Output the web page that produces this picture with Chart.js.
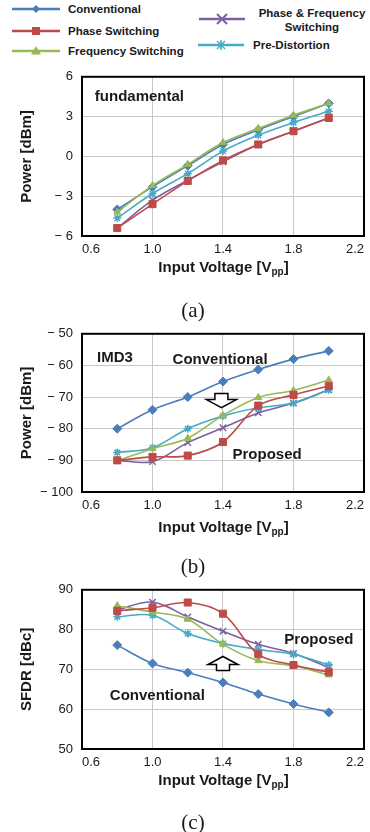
<!DOCTYPE html>
<html>
<head>
<meta charset="utf-8">
<script src="https://cdn.jsdelivr.net/npm/chart.js@4.4.1/dist/chart.umd.min.js"></script>
<style>
  body { margin: 0; width: 370px; height: 832px; position: relative; background: #fff; overflow: hidden;
         font-family: "Liberation Sans", Arial, sans-serif; color: #1a1a1a; }
  .box { position: absolute; left: 0; width: 370px; height: 200px; }
  .xt { position: absolute; left: 82px; width: 283px; text-align: center; font-weight: bold;
        font-size: 15px; line-height: 18px; }
  .xt sub { font-size: 10px; vertical-align: -3px; line-height: 0; }
  .cap { position: absolute; left: 0; width: 386px; text-align: center; line-height: 24px;
         font-family: "Liberation Serif", serif; font-size: 21px; }
  .lg { position: absolute; font-weight: bold; font-size: 11.5px; line-height: 14px; }
  #legend { position: absolute; left: 0; top: 0; }
</style>
</head>
<body>
<svg id="legend" width="370" height="60"></svg>
<div class="lg" style="left:68px;top:2px">Conventional</div>
<div class="lg" style="left:68px;top:24px">Phase Switching</div>
<div class="lg" style="left:68px;top:44px">Frequency Switching</div>
<div class="lg" style="left:256px;top:6px;width:112px;text-align:center">Phase &amp; Frequency<br>Switching</div>
<div class="lg" style="left:253px;top:38px">Pre-Distortion</div>

<div class="box" style="top:60px"><canvas id="chartA"></canvas></div>
<div class="xt" style="top:258px">Input Voltage [V<sub>pp</sub>]</div>
<div class="cap" style="top:298px">(a)</div>

<div class="box" style="top:317px;height:199px"><canvas id="chartB"></canvas></div>
<div class="xt" style="top:518px">Input Voltage [V<sub>pp</sub>]</div>
<div class="cap" style="top:554px">(b)</div>

<div class="box" style="top:573px"><canvas id="chartC"></canvas></div>
<div class="xt" style="top:771px">Input Voltage [V<sub>pp</sub>]</div>
<div class="cap" style="top:810px">(c)</div>

<script>
const xValues = [0.8, 1.0, 1.2, 1.4, 1.6, 1.8, 2.0];
const xTicks = [0.6, 1.0, 1.4, 1.8, 2.2];
const seriesNames = ["Conventional", "Phase Switching", "Frequency Switching",
  "Phase & Frequency Switching", "Pre-Distortion"];
const colors = ["#4a7ebb", "#be4b48", "#98b954", "#7d60a0", "#46aac5"];
const markers = ["rectRot", "rect", "triangle", "crossRot", "star"];

// (a) fundamental power [dBm]
const fundTicks = [-6, -3, 0, 3, 6];
const fundConv = [-4.0, -2.3, -0.7, 0.9, 2.0, 3.0, 4.0];
const fundPhase = [-5.4, -3.6, -1.85, -0.3, 0.9, 1.9, 2.9];
const fundFreq = [-4.2, -2.2, -0.6, 1.05, 2.1, 3.1, 4.0];
const fundBoth = [-5.4, -3.3, -1.8, -0.4, 0.9, 1.9, 2.9];
const fundPre = [-4.65, -2.8, -1.3, 0.4, 1.6, 2.55, 3.4];

// (b) IMD3 power [dBm]
const imdTicks = [-100, -90, -80, -70, -60, -50];
const imdConv = [-80, -74, -70, -65.1, -61.3, -58, -55.4];
const imdPhase = [-90, -88.9, -88.5, -84.2, -72.7, -69.3, -66.5];
const imdFreq = [-90.1, -86.3, -83, -75.8, -70.1, -67.9, -64.6];
const imdBoth = [-90, -90.4, -84.4, -79.7, -75, -71.9, -67.7];
const imdPre = [-87.5, -86, -80, -76, -73.4, -71.9, -67.7];

// (c) SFDR [dBc]
const sfdrTicks = [50, 60, 70, 80, 90];
const sfdrConv = [76.1, 71.5, 69.2, 66.7, 63.8, 61.3, 59.2];
const sfdrPhase = [84.7, 85.5, 86.8, 84, 73.8, 71.1, 69.3];
const sfdrFreq = [86, 84.4, 82.6, 76.3, 72.2, 70.9, 68.6];
const sfdrBoth = [85, 86.9, 83.2, 79.6, 76.3, 74, 70.5];
const sfdrPre = [83.2, 83.6, 79, 76.5, 75, 73.8, 71.1];

// legend swatches
const svgNS = "http://www.w3.org/2000/svg";
const legendSvg = document.getElementById("legend");
function svgEl(tag, attrs) {
  const el = document.createElementNS(svgNS, tag);
  for (const k in attrs) el.setAttribute(k, attrs[k]);
  legendSvg.appendChild(el);
}
function swatch(i, x1, x2, y) {
  const c = colors[i], m = (x1 + x2) / 2;
  svgEl("line", { x1: x1, y1: y, x2: x2, y2: y, stroke: c, "stroke-width": 2.5 });
  if (markers[i] === "rectRot") svgEl("polygon", { points: `${m-4},${y} ${m},${y-4} ${m+4},${y} ${m},${y+4}`, fill: c });
  if (markers[i] === "rect") svgEl("rect", { x: m - 4, y: y - 4, width: 8, height: 8, fill: c });
  if (markers[i] === "triangle") svgEl("polygon", { points: `${m-5},${y+3.5} ${m+5},${y+3.5} ${m},${y-5}`, fill: c });
  if (markers[i] === "crossRot") {
    svgEl("path", { d: `M${m-5},${y-5}L${m+5},${y+5}M${m+5},${y-5}L${m-5},${y+5}`, stroke: c, "stroke-width": 2 });
  }
  if (markers[i] === "star") {
    svgEl("path", { d: `M${m-4},${y-4}L${m+4},${y+4}M${m+4},${y-4}L${m-4},${y+4}M${m},${y-5}L${m},${y+5}`, stroke: c, "stroke-width": 1.5 });
  }
}
swatch(0, 12, 60, 9);
swatch(1, 12, 60, 31);
swatch(2, 12, 60, 51);
swatch(3, 199, 245, 19);
swatch(4, 198, 244, 45);

const decor = {
  id: "decor",
  afterDatasetsDraw(chart, args, opts) {
    const { ctx, chartArea: a, scales: { x, y } } = chart;
    ctx.save();
    ctx.strokeStyle = "#000";
    ctx.lineWidth = 2;
    ctx.strokeRect(a.left, a.top, a.width, a.height);
    ctx.fillStyle = "#1a1a1a";
    ctx.font = 'bold 15px "Liberation Sans"';
    ctx.textAlign = "left";
    ctx.textBaseline = "middle";
    (opts.notes || []).forEach(n => ctx.fillText(n.text, x.getPixelForValue(n.x), y.getPixelForValue(n.y)));
    if (opts.arrow) {
      const cx = x.getPixelForValue(opts.arrow.x), t = y.getPixelForValue(opts.arrow.y);
      const hw = 15, sw = 6.5, hh = 8, sh = 6;
      ctx.beginPath();
      if (opts.arrow.dir === "down") {
        ctx.moveTo(cx - sw, t); ctx.lineTo(cx + sw, t); ctx.lineTo(cx + sw, t + sh);
        ctx.lineTo(cx + hw, t + sh); ctx.lineTo(cx, t + sh + hh); ctx.lineTo(cx - hw, t + sh);
        ctx.lineTo(cx - sw, t + sh);
      } else {
        ctx.moveTo(cx, t); ctx.lineTo(cx + hw, t + hh); ctx.lineTo(cx + sw, t + hh);
        ctx.lineTo(cx + sw, t + hh + sh); ctx.lineTo(cx - sw, t + hh + sh); ctx.lineTo(cx - sw, t + hh);
        ctx.lineTo(cx - hw, t + hh);
      }
      ctx.closePath();
      ctx.fillStyle = "#fff";
      ctx.fill();
      ctx.lineWidth = 1.5;
      ctx.stroke();
    }
    ctx.restore();
  }
};

function fmtY(v) {
  return v < 0 ? "\u2212 " + Math.abs(v) : String(v);
}

function makeChart(id, yTitle, yTicks, series, order, decorOpts) {
  const datasets = series.map((vals, i) => ({
    label: seriesNames[i],
    data: xValues.map((xv, k) => ({ x: xv, y: vals[k] })),
    borderColor: colors[i],
    backgroundColor: colors[i],
    borderWidth: 1.6,
    pointStyle: markers[i],
    pointRadius: markers[i] === "rect" ? 5 : markers[i] === "crossRot" ? 4.5 : markers[i] === "rectRot" ? 4.5 : 4,
    pointBorderWidth: markers[i] === "crossRot" || markers[i] === "star" ? 1.5 : 1,
    tension: 0.35,
    order: order[i]
  }));
  new Chart(document.getElementById(id), {
    type: "line",
    data: { datasets },
    plugins: [decor],
    options: {
      responsive: true,
      maintainAspectRatio: false,
      animation: false,
      layout: { padding: { top: 16, right: 5, left: 0, bottom: 0 } },
      plugins: { legend: { display: false }, tooltip: { enabled: false }, decor: decorOpts },
      scales: {
        x: {
          type: "linear",
          min: xTicks[0],
          max: xTicks[xTicks.length - 1],
          afterBuildTicks: axis => { axis.ticks = xTicks.map(v => ({ value: v })); },
          afterFit: axis => { axis.height = 24; },
          border: { display: false },
          grid: { color: "#c8c8c8", drawTicks: false },
          ticks: {
            align: "inner",
            padding: 6,
            color: "#1a1a1a",
            font: { family: "Liberation Sans", size: 13 },
            callback: v => v.toFixed(1)
          }
        },
        y: {
          min: yTicks[0],
          max: yTicks[yTicks.length - 1],
          afterBuildTicks: axis => { axis.ticks = yTicks.map(v => ({ value: v })); },
          afterFit: axis => { axis.width = 82; },
          border: { display: false },
          grid: { color: "#c8c8c8", drawTicks: false },
          ticks: {
            padding: 9,
            color: "#1a1a1a",
            font: { family: "Liberation Sans", size: 13 },
            callback: v => fmtY(v)
          },
          title: {
            display: true,
            text: yTitle,
            color: "#1a1a1a",
            font: { family: "Liberation Sans", size: 15, weight: "bold" },
            padding: { top: 18, bottom: 0 }
          }
        }
      }
    }
  });
}

makeChart("chartA", "Power [dBm]", fundTicks,
  [fundConv, fundPhase, fundFreq, fundBoth, fundPre], [4, 1, 0, 3, 2],
  { notes: [{ text: "fundamental", x: 0.673, y: 4.5 }] });

makeChart("chartB", "Power [dBm]", imdTicks,
  [imdConv, imdPhase, imdFreq, imdBoth, imdPre], [0, 1, 2, 4, 3],
  { notes: [{ text: "IMD3", x: 0.685, y: -57.5 }, { text: "Conventional", x: 1.114, y: -58.2 },
            { text: "Proposed", x: 1.454, y: -88.4 }],
    arrow: { x: 1.391, y: -68.9, dir: "down" } });

makeChart("chartC", "SFDR [dBc]", sfdrTicks,
  [sfdrConv, sfdrPhase, sfdrFreq, sfdrBoth, sfdrPre], [0, 1, 2, 4, 3],
  { notes: [{ text: "Proposed", x: 1.748, y: 77.5 }, { text: "Conventional", x: 0.758, y: 63.25 }],
    arrow: { x: 1.4, y: 73.25, dir: "up" } });
</script>
</body>
</html>
